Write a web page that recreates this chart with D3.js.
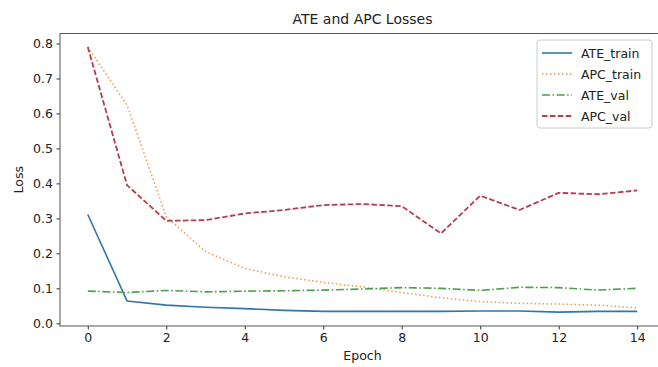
<!DOCTYPE html>
<html><head><meta charset="utf-8">
<script src="https://cdn.jsdelivr.net/npm/d3@7"></script>
<style>body{margin:0;background:#fff}svg{display:block;font-family:"DejaVu Sans",sans-serif}</style>
</head><body><svg id="c" width="658" height="367"></svg>
<script>
const epochs = [0,1,2,3,4,5,6,7,8,9,10,11,12,13,14];
const ateTrain = [0.311,0.064,0.052,0.046,0.042,0.037,0.034,0.034,0.034,0.034,0.035,0.035,0.032,0.034,0.034];
const apcTrain = [0.79,0.624,0.305,0.205,0.157,0.133,0.117,0.104,0.088,0.073,0.062,0.057,0.055,0.052,0.044];
const ateVal = [0.092,0.088,0.094,0.090,0.092,0.093,0.095,0.098,0.102,0.100,0.094,0.103,0.102,0.095,0.100];
const apcVal = [0.79,0.395,0.293,0.295,0.314,0.324,0.338,0.341,0.335,0.257,0.365,0.324,0.373,0.369,0.380];
const yTicks = [0.0,0.1,0.2,0.3,0.4,0.5,0.6,0.7,0.8];
const xTicks = [0,2,4,6,8,10,12,14];
const seriesNames = ["ATE_train","APC_train","ATE_val","APC_val"];

const series = [
  {name:seriesNames[0], values:ateTrain, color:"#2f76ad", dash:null, w:1.6},
  {name:seriesNames[1], values:apcTrain, color:"#f0974a", dash:"1.5,2.5", w:1.5},
  {name:seriesNames[2], values:ateVal, color:"#4e9e4e", dash:"8,2.5,1.6,2.5", w:1.6},
  {name:seriesNames[3], values:apcVal, color:"#b2404c", dash:"5.5,2.4", w:1.8}
];

const L=60, R=665, T=33.5, B=326;
const svg = d3.select("#c");
const x = d3.scaleLinear().domain([-0.708,14.708]).range([L,R]);
const y = d3.scaleLinear().domain([-0.0077,0.8286]).range([B,T]);

// lines
const line = d3.line().x((d,i)=>x(epochs[i])).y(d=>y(d));
series.forEach(s=>{
  svg.append("path").attr("d",line(s.values)).attr("fill","none")
    .attr("stroke",s.color).attr("stroke-width",s.w)
    .attr("stroke-dasharray",s.dash).attr("stroke-linejoin","round");
});

// frame
svg.append("rect").attr("x",L).attr("y",T).attr("width",R-L).attr("height",B-T)
  .attr("fill","none").attr("stroke","#555").attr("stroke-width",1);

// axes
const xa = svg.append("g").attr("transform",`translate(0,${B})`)
  .call(d3.axisBottom(x).tickValues(xTicks).tickFormat(d3.format("d")).tickSizeOuter(0).tickSizeInner(3.5).tickPadding(3.5));
const ya = svg.append("g").attr("transform",`translate(${L},0)`)
  .call(d3.axisLeft(y).tickValues(yTicks).tickFormat(d3.format(".1f")).tickSizeOuter(0).tickSizeInner(3.5).tickPadding(3.5));
[xa,ya].forEach(a=>{
  a.select(".domain").remove();
  a.selectAll("text").attr("font-size",12.5).attr("fill","#222").attr("font-family","DejaVu Sans, sans-serif");
  a.selectAll("line").attr("stroke","#333");
});

svg.append("text").attr("x",(L+R)/2).attr("y",24).attr("text-anchor","middle")
  .attr("font-size",14).attr("fill","#222").text("ATE and APC Losses");
svg.append("text").attr("x",(L+R)/2).attr("y",360).attr("text-anchor","middle")
  .attr("font-size",12.5).attr("fill","#222").text("Epoch");
svg.append("text").attr("transform",`translate(23,${(T+B)/2}) rotate(-90)`).attr("text-anchor","middle")
  .attr("font-size",12.5).attr("fill","#222").text("Loss");

// legend
const lg = svg.append("g").attr("transform","translate(537,40)");
lg.append("rect").attr("width",115).attr("height",88).attr("rx",3)
  .attr("fill","#fff").attr("fill-opacity",0.8).attr("stroke","#ccc");
series.forEach((s,i)=>{
  const yy = 13 + i*21;
  lg.append("line").attr("x1",5).attr("x2",35).attr("y1",yy).attr("y2",yy)
    .attr("stroke",s.color).attr("stroke-width",s.w).attr("stroke-dasharray",s.dash);
  lg.append("text").attr("x",44).attr("y",yy+4.5).attr("font-size",12.5).attr("fill","#222").text(s.name);
});
</script></body></html>
